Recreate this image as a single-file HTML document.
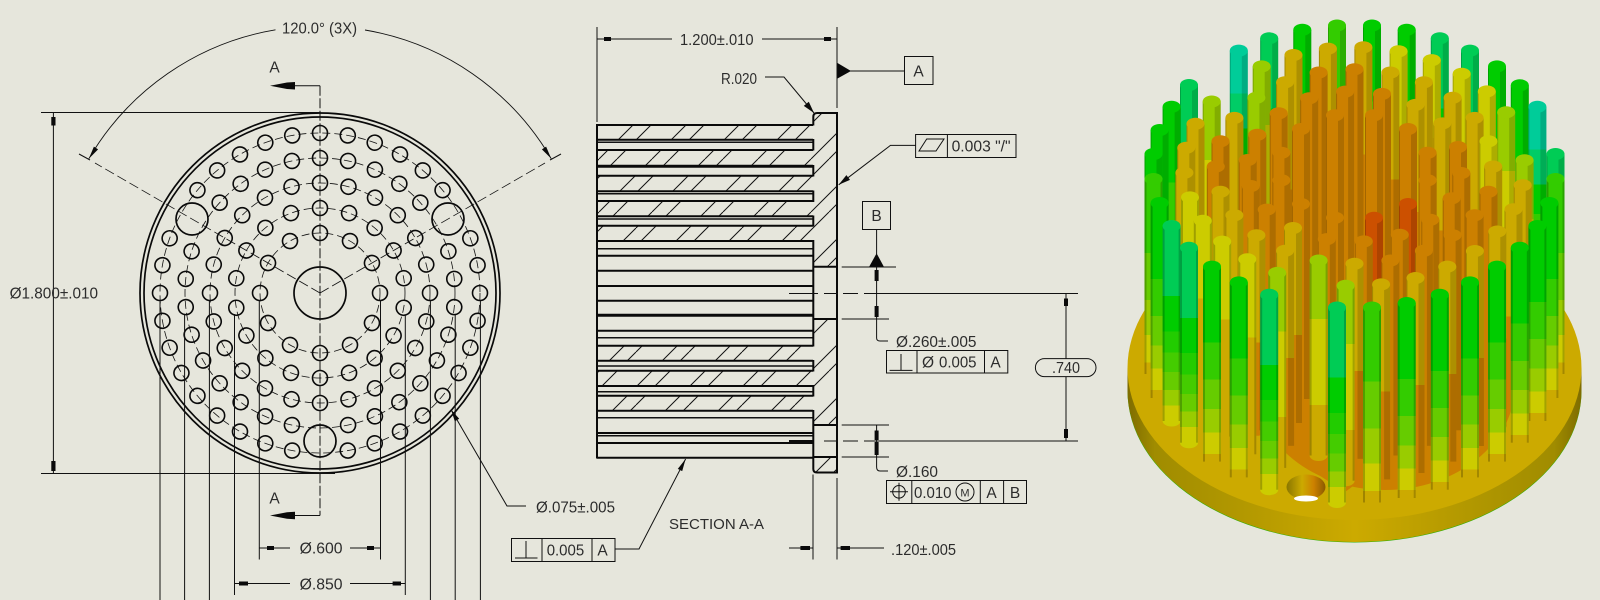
<!DOCTYPE html>
<html><head><meta charset="utf-8"><style>
html,body{margin:0;padding:0;background:#e6e6dc}
svg{display:block}
text{font-family:"Liberation Sans",sans-serif;font-size:15.5px;fill:#2c2c2c;transform:translateY(.5px)}
.t{stroke:#111;stroke-width:1;fill:none}
.m{stroke:#111;stroke-width:1.5;fill:none}
.k{stroke:#0a0a0a;stroke-width:2;fill:none}
.f{fill:#0a0a0a;stroke:none}
</style></head><body>
<svg width="1600" height="600" viewBox="0 0 1600 600" xmlns="http://www.w3.org/2000/svg">
<defs>
<circle id="a" cx="320" cy="133" r="7.5"/><circle id="b" cx="320" cy="158" r="7.5"/><circle id="c" cx="320" cy="183" r="7.5"/><circle id="d" cx="320" cy="208" r="7.5"/><circle id="e" cx="320" cy="233" r="7.5"/>
<pattern id="hh" width="53" height="53" patternUnits="userSpaceOnUse"><path d="M16 0L0 16M34 0L0 34M53 16L16 53M53 34L34 53" stroke="#111" stroke-width="1" fill="none"/></pattern>
<linearGradient id="ga" x1="0" y1="0" x2="0" y2="1"><stop offset=".22" stop-color="#00cc99"/><stop offset=".22" stop-color="#00cc66"/><stop offset=".4" stop-color="#00cc66"/><stop offset=".4" stop-color="#00cc00"/><stop offset=".55" stop-color="#00cc00"/><stop offset=".55" stop-color="#33cc00"/><stop offset=".68" stop-color="#33cc00"/><stop offset=".68" stop-color="#66cc00"/><stop offset=".78" stop-color="#66cc00"/><stop offset=".78" stop-color="#99cc00"/><stop offset=".9" stop-color="#99cc00"/><stop offset=".9" stop-color="#cccc00"/></linearGradient>
<linearGradient id="gb" x1="0" y1="0" x2="0" y2="1"><stop offset=".36" stop-color="#00cc55"/><stop offset=".36" stop-color="#00cc00"/><stop offset=".54" stop-color="#00cc00"/><stop offset=".54" stop-color="#22cc00"/><stop offset=".65" stop-color="#22cc00"/><stop offset=".65" stop-color="#44cc00"/><stop offset=".75" stop-color="#44cc00"/><stop offset=".75" stop-color="#66cc00"/><stop offset=".84" stop-color="#66cc00"/><stop offset=".84" stop-color="#99cc00"/><stop offset=".92" stop-color="#99cc00"/><stop offset=".92" stop-color="#cccc00"/></linearGradient>
<linearGradient id="gc" x1="0" y1="0" x2="0" y2="1"><stop offset=".39" stop-color="#00cc00"/><stop offset=".39" stop-color="#33cc00"/><stop offset=".58" stop-color="#33cc00"/><stop offset=".58" stop-color="#66cc00"/><stop offset=".73" stop-color="#66cc00"/><stop offset=".73" stop-color="#99cc00"/><stop offset=".85" stop-color="#99cc00"/><stop offset=".85" stop-color="#cccc00"/><stop offset=".96" stop-color="#cccc00"/><stop offset=".96" stop-color="#ccaa00"/></linearGradient>
<linearGradient id="gd" x1="0" y1="0" x2="0" y2="1"><stop offset=".38" stop-color="#33cc00"/><stop offset=".38" stop-color="#66cc00"/><stop offset=".62" stop-color="#66cc00"/><stop offset=".62" stop-color="#99cc00"/><stop offset=".8" stop-color="#99cc00"/><stop offset=".8" stop-color="#cccc00"/><stop offset=".94" stop-color="#cccc00"/><stop offset=".94" stop-color="#ccaa00"/></linearGradient>
<linearGradient id="ge" x1="0" y1="0" x2="0" y2="1"><stop offset=".3" stop-color="#99cc00"/><stop offset=".3" stop-color="#cccc00"/><stop offset=".74" stop-color="#cccc00"/><stop offset=".74" stop-color="#ccaa00"/></linearGradient>
<linearGradient id="gf" x1="0" y1="0" x2="0" y2="1"><stop offset=".4" stop-color="#cccc00"/><stop offset=".4" stop-color="#ccaa00"/></linearGradient>
<linearGradient id="gg" x1="0" y1="0" x2="0" y2="1"><stop offset=".55" stop-color="#ccaa00"/><stop offset=".55" stop-color="#cc8000"/></linearGradient>
<linearGradient id="gi" x1="0" y1="0" x2="0" y2="1"><stop offset=".4" stop-color="#cc5000"/><stop offset=".4" stop-color="#cc8000"/></linearGradient>
<linearGradient id="side" x1="0" y1="0" x2="1" y2="0"><stop offset="0" stop-color="#7e6c00"/><stop offset=".06" stop-color="#a08c00"/><stop offset=".28" stop-color="#b59a00"/><stop offset=".5" stop-color="#ccaa00"/><stop offset=".72" stop-color="#b59a00"/><stop offset=".94" stop-color="#a08c00"/><stop offset="1" stop-color="#7e6c00"/></linearGradient>
<linearGradient id="holeg" x1="0" y1="0" x2="1" y2="0"><stop offset="0" stop-color="#8a7600"/><stop offset=".4" stop-color="#ccaa00"/><stop offset=".7" stop-color="#cc8000"/><stop offset="1" stop-color="#8a5a00"/></linearGradient>
<g id="P"><rect x="3" y="0" width="6" height="195" fill="#000" opacity=".15"/><rect x="-9" y="0" width="1" height="195" fill="#000" opacity=".2"/></g>
<g id="Q"><rect x="7" y="0" width="2" height="195" fill="#000" opacity=".2"/><rect x="-9" y="0" width="2" height="195" fill="#000" opacity=".22"/></g>
<g id="pa"><ellipse cy="195" rx="9" ry="5.5" fill="#cccc00"/><rect x="-9" width="18" height="195" fill="url(#ga)"/><use href="#P"/><ellipse rx="9" ry="6" fill="#00cc99"/></g>
<g id="pb"><ellipse cy="195" rx="9" ry="5.5" fill="#cccc00"/><rect x="-9" width="18" height="195" fill="url(#gb)"/><use href="#P"/><ellipse rx="9" ry="6" fill="#00cc55"/></g>
<g id="pc"><ellipse cy="195" rx="9" ry="5.5" fill="#ccaa00"/><rect x="-9" width="18" height="195" fill="url(#gc)"/><use href="#P"/><ellipse rx="9" ry="6" fill="#00cc00"/></g>
<g id="pd"><ellipse cy="195" rx="9" ry="5.5" fill="#ccaa00"/><rect x="-9" width="18" height="195" fill="url(#gd)"/><use href="#P"/><ellipse rx="9" ry="6" fill="#33cc00"/></g>
<g id="pe"><ellipse cy="195" rx="9" ry="5.5" fill="#ccaa00"/><rect x="-9" width="18" height="195" fill="url(#ge)"/><use href="#P"/><ellipse rx="9" ry="6" fill="#99cc00"/></g>
<g id="pf"><ellipse cy="195" rx="9" ry="5.5" fill="#ccaa00"/><rect x="-9" width="18" height="195" fill="url(#gf)"/><use href="#P"/><ellipse rx="9" ry="6" fill="#cccc00"/></g>
<g id="pg"><ellipse cy="195" rx="9" ry="5.5" fill="#cc8000"/><rect x="-9" width="18" height="195" fill="url(#gg)"/><use href="#P"/><ellipse rx="9" ry="6" fill="#ccaa00"/></g>
<g id="ph"><ellipse cy="195" rx="9" ry="5.5" fill="#cc8000"/><rect x="-9" width="18" height="195" fill="#cc8000"/><use href="#P"/><ellipse rx="9" ry="6" fill="#cc8000"/></g>
<g id="pi"><ellipse cy="195" rx="9" ry="5.5" fill="#cc8000"/><rect x="-9" width="18" height="195" fill="url(#gi)"/><use href="#P"/><ellipse rx="9" ry="6" fill="#cc5000"/></g>
<g id="qb"><ellipse cy="195" rx="9" ry="5.5" fill="#cccc00"/><rect x="-9" width="18" height="195" fill="url(#gb)"/><use href="#Q"/><ellipse rx="9" ry="6" fill="#00cc55"/></g>
<g id="qc"><ellipse cy="195" rx="9" ry="5.5" fill="#ccaa00"/><rect x="-9" width="18" height="195" fill="url(#gc)"/><use href="#Q"/><ellipse rx="9" ry="6" fill="#00cc00"/></g>
<g id="qd"><ellipse cy="195" rx="9" ry="5.5" fill="#ccaa00"/><rect x="-9" width="18" height="195" fill="url(#gd)"/><use href="#Q"/><ellipse rx="9" ry="6" fill="#33cc00"/></g>
<g id="qe"><ellipse cy="195" rx="9" ry="5.5" fill="#ccaa00"/><rect x="-9" width="18" height="195" fill="url(#ge)"/><use href="#Q"/><ellipse rx="9" ry="6" fill="#99cc00"/></g>
<g id="qf"><ellipse cy="195" rx="9" ry="5.5" fill="#ccaa00"/><rect x="-9" width="18" height="195" fill="url(#gf)"/><use href="#Q"/><ellipse rx="9" ry="6" fill="#cccc00"/></g>
</defs>
<rect width="1600" height="600" fill="#e6e6dc"/>

<!-- FRONT VIEW -->
<g class="k" style="stroke-width:1.7"><circle cx="320" cy="293" r="180"/><circle cx="320" cy="293" r="176"/><circle cx="320" cy="293" r="26"/><circle cx="320" cy="441" r="16"/><circle cx="192" cy="219" r="16"/><circle cx="448" cy="219" r="16"/></g>
<g fill="none" stroke="#111" stroke-width=".8" stroke-dasharray="8 4"><circle cx="320" cy="293" r="60"/><circle cx="320" cy="293" r="85"/><circle cx="320" cy="293" r="110"/><circle cx="320" cy="293" r="135"/><circle cx="320" cy="293" r="160"/></g>
<g fill="none" stroke="#0a0a0a" stroke-width="1.6">
<use href="#a"/><use href="#a" transform="rotate(10 320 293)"/><use href="#a" transform="rotate(20 320 293)"/><use href="#a" transform="rotate(30 320 293)"/><use href="#a" transform="rotate(40 320 293)"/><use href="#a" transform="rotate(50 320 293)"/><use href="#a" transform="rotate(70 320 293)"/><use href="#a" transform="rotate(80 320 293)"/><use href="#a" transform="rotate(90 320 293)"/><use href="#a" transform="rotate(100 320 293)"/><use href="#a" transform="rotate(110 320 293)"/><use href="#a" transform="rotate(120 320 293)"/><use href="#a" transform="rotate(130 320 293)"/><use href="#a" transform="rotate(140 320 293)"/><use href="#a" transform="rotate(150 320 293)"/><use href="#a" transform="rotate(160 320 293)"/><use href="#a" transform="rotate(170 320 293)"/><use href="#a" transform="rotate(190 320 293)"/><use href="#a" transform="rotate(200 320 293)"/><use href="#a" transform="rotate(210 320 293)"/><use href="#a" transform="rotate(220 320 293)"/><use href="#a" transform="rotate(230 320 293)"/><use href="#a" transform="rotate(240 320 293)"/><use href="#a" transform="rotate(250 320 293)"/><use href="#a" transform="rotate(260 320 293)"/><use href="#a" transform="rotate(270 320 293)"/><use href="#a" transform="rotate(280 320 293)"/><use href="#a" transform="rotate(290 320 293)"/><use href="#a" transform="rotate(310 320 293)"/><use href="#a" transform="rotate(320 320 293)"/><use href="#a" transform="rotate(330 320 293)"/><use href="#a" transform="rotate(340 320 293)"/><use href="#a" transform="rotate(350 320 293)"/>
<use href="#b"/><use href="#b" transform="rotate(12 320 293)"/><use href="#b" transform="rotate(24 320 293)"/><use href="#b" transform="rotate(36 320 293)"/><use href="#b" transform="rotate(48 320 293)"/><use href="#b" transform="rotate(72 320 293)"/><use href="#b" transform="rotate(84 320 293)"/><use href="#b" transform="rotate(96 320 293)"/><use href="#b" transform="rotate(108 320 293)"/><use href="#b" transform="rotate(120 320 293)"/><use href="#b" transform="rotate(132 320 293)"/><use href="#b" transform="rotate(144 320 293)"/><use href="#b" transform="rotate(156 320 293)"/><use href="#b" transform="rotate(168 320 293)"/><use href="#b" transform="rotate(192 320 293)"/><use href="#b" transform="rotate(204 320 293)"/><use href="#b" transform="rotate(216 320 293)"/><use href="#b" transform="rotate(228 320 293)"/><use href="#b" transform="rotate(240 320 293)"/><use href="#b" transform="rotate(252 320 293)"/><use href="#b" transform="rotate(264 320 293)"/><use href="#b" transform="rotate(276 320 293)"/><use href="#b" transform="rotate(288 320 293)"/><use href="#b" transform="rotate(312 320 293)"/><use href="#b" transform="rotate(324 320 293)"/><use href="#b" transform="rotate(336 320 293)"/><use href="#b" transform="rotate(348 320 293)"/>
<use href="#c"/><use href="#c" transform="rotate(15 320 293)"/><use href="#c" transform="rotate(30 320 293)"/><use href="#c" transform="rotate(45 320 293)"/><use href="#c" transform="rotate(60 320 293)"/><use href="#c" transform="rotate(75 320 293)"/><use href="#c" transform="rotate(90 320 293)"/><use href="#c" transform="rotate(105 320 293)"/><use href="#c" transform="rotate(120 320 293)"/><use href="#c" transform="rotate(135 320 293)"/><use href="#c" transform="rotate(150 320 293)"/><use href="#c" transform="rotate(165 320 293)"/><use href="#c" transform="rotate(180 320 293)"/><use href="#c" transform="rotate(195 320 293)"/><use href="#c" transform="rotate(210 320 293)"/><use href="#c" transform="rotate(225 320 293)"/><use href="#c" transform="rotate(240 320 293)"/><use href="#c" transform="rotate(255 320 293)"/><use href="#c" transform="rotate(270 320 293)"/><use href="#c" transform="rotate(285 320 293)"/><use href="#c" transform="rotate(300 320 293)"/><use href="#c" transform="rotate(315 320 293)"/><use href="#c" transform="rotate(330 320 293)"/><use href="#c" transform="rotate(345 320 293)"/>
<use href="#d"/><use href="#d" transform="rotate(20 320 293)"/><use href="#d" transform="rotate(40 320 293)"/><use href="#d" transform="rotate(60 320 293)"/><use href="#d" transform="rotate(80 320 293)"/><use href="#d" transform="rotate(100 320 293)"/><use href="#d" transform="rotate(120 320 293)"/><use href="#d" transform="rotate(140 320 293)"/><use href="#d" transform="rotate(160 320 293)"/><use href="#d" transform="rotate(180 320 293)"/><use href="#d" transform="rotate(200 320 293)"/><use href="#d" transform="rotate(220 320 293)"/><use href="#d" transform="rotate(240 320 293)"/><use href="#d" transform="rotate(260 320 293)"/><use href="#d" transform="rotate(280 320 293)"/><use href="#d" transform="rotate(300 320 293)"/><use href="#d" transform="rotate(320 320 293)"/><use href="#d" transform="rotate(340 320 293)"/>
<use href="#e"/><use href="#e" transform="rotate(30 320 293)"/><use href="#e" transform="rotate(60 320 293)"/><use href="#e" transform="rotate(90 320 293)"/><use href="#e" transform="rotate(120 320 293)"/><use href="#e" transform="rotate(150 320 293)"/><use href="#e" transform="rotate(180 320 293)"/><use href="#e" transform="rotate(210 320 293)"/><use href="#e" transform="rotate(240 320 293)"/><use href="#e" transform="rotate(270 320 293)"/><use href="#e" transform="rotate(300 320 293)"/><use href="#e" transform="rotate(330 320 293)"/>
</g>
<path d="M320 85.7V515.5" stroke="#111" stroke-width="1" stroke-dasharray="10 2.5" fill="none"/>
<path d="M320 293L95 163M320 293L545 163" stroke="#111" stroke-width=".8" stroke-dasharray="10 4" fill="none"/>
<path class="t" d="M79 154L90 160M561 154L550 160M295 85.7H320M295 515.5H320"/>
<path class="t" style="stroke-width:.9" d="M88.8 158.8A267.3 267.3 0 0 1 275.5 29.8M365 30A267.3 267.3 0 0 1 551.3 158.8"/>
<path class="f" d="M88.8 158.8L98.1 149.4L93.9 146.6ZM551.3 158.8L541.9 149.4L546.1 146.6ZM270 85.7L287 82.5L295 82V89.5L287 89ZM270 515.5L287 512.3L295 511.8V519.3L287 518.8Z"/>
<path class="t" d="M41 112.5H320M41 473.5H335M53.4 113V473"/>
<path class="f" d="M51.3 117H55.5V125.5H51.3ZM51.3 461H55.5V471H51.3Z"/>
<path class="t" d="M160 300V600M184.6 315V600M209.4 300V600M234.5 314V595M259.3 300V559.5M380.5 300V559.5M405.3 315V595M430.4 300V600M455.2 315V600M480.4 300V600"/>
<path class="t" d="M259.3 548H290M350 548H380.5M234.5 583.5H290M350 583.5H405.3"/>
<path class="f" d="M267 546H274V550H267ZM367 546H374V550H367ZM239 581.5H248V585.5H239ZM392.6 581.5H401V585.5H392.6Z"/>
<path class="t" d="M451 409.5L507 506H526"/>
<path class="f" d="M451 409.5L459.2 418.8L454.8 421.2Z"/>
<text x="274.5" y="72" text-anchor="middle">A</text>
<text x="274.5" y="503" text-anchor="middle">A</text>
<text x="282" y="33" textLength="75" lengthAdjust="spacingAndGlyphs">120.0° (3X)</text>
<text x="9.6" y="298" textLength="88.5" lengthAdjust="spacingAndGlyphs">Ø1.800±.010</text>
<text x="299.6" y="553" textLength="43" lengthAdjust="spacingAndGlyphs">Ø.600</text>
<text x="299.6" y="589" textLength="43" lengthAdjust="spacingAndGlyphs">Ø.850</text>
<text x="536" y="512" textLength="79" lengthAdjust="spacingAndGlyphs">Ø.075±.005</text>

<!-- SECTION VIEW -->
<path fill="url(#hh)" d="M597 125H813V140H597ZM597 150H813V166H597ZM597 175.7H813V191.3H597ZM597 201H813V216.3H597ZM597 225.7H813V241H597ZM597 345.7H813V360.7H597ZM597 370.7H813V386H597ZM597 395.7H813V410.7H597ZM813 113H837V266.7H813ZM813 319H837V425H813ZM813 457H837V472H813Z"/>
<path class="k" d="M597 125H813M597 139.7H813M597 150H813M597 175.7H813M597 191.3H813M597 201H813M597 216.3H813M597 225.7H813M597 241H813M597 255.7H813M597 270.7H813M597 286H813M597 300.7H813M597 330.7H813M597 345.7H813M597 360.7H813M597 370.7H813M597 386H813M597 395.7H813M597 410.7H813M597 433H813M597 443H813M597 457.7H813"/>
<path class="k" style="stroke-width:3" d="M597 166.3H813M597 315.3H813"/>
<path class="m" d="M597 142.3H813M597 193.7H813M597 219H813M597 248.7H813M597 337.7H813M597 366H813M597 391.7H813M597 417.7H813M597 435.7H813"/>
<path class="k" d="M597 124V458.5"/>
<path class="k" d="M813.3 139V150.5M813.3 165V176.5M813.3 190.5V202M813.3 215.5V226.5M813.3 240V346.5M813.3 360V371.5M813.3 385V396.5M813.3 410V469Q813.3 472.5 817 472.5H837V113H817Q813.3 113 813.3 117V125.5"/>
<path class="k" d="M813 266.7H837M813 319H837M813 425H837M813 457H837"/>
<path class="t" d="M789 293.5H818M824 293.5H838M843 293.5H858M864 293.5H1078"/>
<path class="t" d="M824 441H838M843 441H858M864 441H1078"/>
<path class="k" d="M789 441H813"/>
<path class="t" d="M597 27V122M837 27V108M597 39H672M762 39H837"/>
<path class="f" d="M604 37H611V41H604ZM824 37H831V41H824Z"/>
<text x="680" y="44.5" textLength="73.5" lengthAdjust="spacingAndGlyphs">1.200±.010</text>
<path class="t" d="M765 77H784L814 113"/>
<path class="f" d="M814 113L808.8 101.7L803.8 105.9Z"/>
<text x="721" y="83.5" textLength="36" lengthAdjust="spacingAndGlyphs">R.020</text>
<path class="f" d="M837.5 63V78.5L851 71Z"/>
<path class="t" d="M850 71H904.5"/>
<rect class="t" x="904.5" y="56.5" width="28.5" height="28"/>
<text x="918.6" y="76" text-anchor="middle">A</text>
<path class="t" d="M915.6 145.4H890.4L838.7 184.8"/>
<path class="f" d="M838.7 184.8L850 179.9L846.4 175.1Z"/>
<rect class="t" x="915.6" y="134.5" width="100.4" height="23"/>
<path class="t" d="M947.4 134.5V157.5M919 151L926.7 139H944L936 151Z"/>
<text x="951.6" y="151" textLength="59" lengthAdjust="spacingAndGlyphs">0.003 "/"</text>
<rect class="t" x="862.5" y="201.5" width="28" height="28"/>
<text x="876.6" y="220.5" text-anchor="middle">B</text>
<path class="t" d="M876.6 229.6V254"/>
<path class="f" d="M876.6 253.3L869 267H884Z"/>
<path class="t" d="M841.7 267H896M841.7 319H889M841.7 425H889M841.7 457H889"/>
<path class="t" d="M876.6 267V338Q876.6 341 880 341H888M876.6 425V467Q876.6 471 880 471H888"/>
<path class="f" d="M874.6 270H878.6V281H874.6ZM874.6 306H878.6V317H874.6ZM874.6 430.5H878.6V440H874.6ZM874.6 442H878.6V455H874.6Z"/>
<text x="896" y="346.7" textLength="80.5" lengthAdjust="spacingAndGlyphs">Ø.260±.005</text>
<rect class="t" x="886.5" y="350.5" width="121.3" height="22.5"/>
<path class="t" d="M917 350.5V373M984.5 350.5V373M889.6 370.4H912.5M901 354V370.4"/>
<text x="922" y="367">Ø</text>
<text x="939" y="367" textLength="37.5" lengthAdjust="spacingAndGlyphs">0.005</text>
<text x="995.6" y="367" text-anchor="middle">A</text>
<text x="896" y="476.5" textLength="42" lengthAdjust="spacingAndGlyphs">Ø.160</text>
<rect class="t" x="886.5" y="480.5" width="140" height="23"/>
<path class="t" d="M911.8 480.5V503.5M980.3 480.5V503.5M1003.6 480.5V503.5"/>
<circle class="t" cx="899" cy="491.8" r="6.3"/>
<path class="t" d="M890 491.8H908M899 482.8V500.8"/>
<text x="914" y="497.5" textLength="37.5" lengthAdjust="spacingAndGlyphs">0.010</text>
<circle class="t" cx="965" cy="492" r="9"/>
<text x="965" y="496" text-anchor="middle" style="font-size:11px">M</text>
<text x="991.6" y="497.5" text-anchor="middle">A</text>
<text x="1015" y="497.5" text-anchor="middle">B</text>
<path class="t" d="M1066 293.5V358.6M1066 376.6V441"/>
<path class="f" d="M1064 298.5H1068V306H1064ZM1064 429H1068V438H1064Z"/>
<rect class="t" x="1035.4" y="358.6" width="60.6" height="18" rx="9"/>
<text x="1052" y="372.5" textLength="28" lengthAdjust="spacingAndGlyphs">.740</text>
<path class="t" d="M813 474.5V559.5M837 478V559.5M789 548H813M837 548H884"/>
<path class="f" d="M800.4 546H810V550H800.4ZM840.6 546H850V550H840.6Z"/>
<text x="891" y="554.5" textLength="65" lengthAdjust="spacingAndGlyphs">.120±.005</text>
<text x="669" y="528.5" textLength="95" lengthAdjust="spacingAndGlyphs" style="font-size:14.5px">SECTION A-A</text>
<rect class="t" x="511.5" y="538.5" width="103.5" height="23"/>
<path class="t" d="M542 538.5V561.5M592 538.5V561.5M515 558H537.5M526 541V558"/>
<text x="546.7" y="555" textLength="37.5" lengthAdjust="spacingAndGlyphs">0.005</text>
<text x="602.5" y="555" text-anchor="middle">A</text>
<path class="t" d="M615 549H639L685.6 459"/>
<path class="f" d="M685.6 459L682.2 471.1L677.8 468.9Z"/>

<!-- 3D MODEL -->
<ellipse cx="1354.5" cy="391" rx="227" ry="151.5" fill="#30b000"/>
<path d="M1127.5 368V390A227 152 0 0 0 1581.5 390V368Z" fill="url(#side)"/>
<ellipse cx="1354.5" cy="368" rx="227" ry="152" fill="#ccaa00"/>
<ellipse cx="1385" cy="385" rx="130" ry="105" fill="#cc8000"/>
<path d="M1293 440L1311 470L1345 492L1375 470Z" fill="#cc8000"/>
<ellipse cx="1306" cy="487" rx="19.5" ry="12.5" fill="url(#holeg)"/>
<ellipse cx="1306" cy="498.5" rx="12" ry="3" fill="#fff"/>
<use href="#pd" x="1337" y="25.5"/><use href="#pc" x="1372" y="25.5"/>
<use href="#pc" x="1302.3" y="29.8"/><use href="#pc" x="1406.7" y="29.8"/>
<use href="#pb" x="1269.2" y="38.3"/><use href="#pb" x="1439.8" y="38.3"/>
<use href="#pg" x="1363.4" y="47.3"/><use href="#pg" x="1327.9" y="48.6"/>
<use href="#pa" x="1238.8" y="50.6"/><use href="#pb" x="1470" y="50.6"/>
<use href="#pf" x="1398.6" y="51.2"/><use href="#pg" x="1293.5" y="55"/>
<use href="#pf" x="1431.8" y="60.1"/><use href="#pe" x="1261.7" y="66.4"/><use href="#pc" x="1497" y="66.4"/>
<use href="#ph" x="1354.5" y="69.2"/><use href="#pg" x="1390.4" y="72.5"/><use href="#ph" x="1318.6" y="72.5"/>
<use href="#pf" x="1461.7" y="73.7"/><use href="#pg" x="1423.9" y="82.2"/><use href="#pg" x="1285.1" y="82.2"/>
<use href="#pb" x="1189" y="85"/><use href="#pc" x="1519.8" y="85.3"/><use href="#pf" x="1486.8" y="91.4"/>
<use href="#ph" x="1345.1" y="91.6"/><use href="#ph" x="1382" y="93.9"/><use href="#pg" x="1452.6" y="97.7"/>
<use href="#pe" x="1256.4" y="97.7"/><use href="#ph" x="1309.2" y="98.3"/><use href="#pe" x="1211.7" y="101.5"/>
<use href="#pg" x="1415.5" y="104.9"/><use href="#pc" x="1171.6" y="106.7"/><use href="#pa" x="1537.4" y="106.7"/>
<use href="#pe" x="1506.2" y="112.3"/><use href="#ph" x="1278.7" y="113.3"/><use href="#ph" x="1374" y="115.3"/><use href="#ph" x="1335" y="115.3"/>
<use href="#pg" x="1474.6" y="117.9"/><use href="#pg" x="1234.4" y="117.9"/><use href="#pg" x="1442.3" y="123.4"/><use href="#pg" x="1195.5" y="123.7"/>
<use href="#ph" x="1408" y="129"/><use href="#ph" x="1301" y="129"/><use href="#pc" x="1159.6" y="130"/><use href="#ph" x="1257.3" y="134.7"/>
<use href="#pf" x="1488.5" y="141.3"/><use href="#ph" x="1220.5" y="141.3"/><use href="#ph" x="1458" y="147"/><use href="#pg" x="1186.3" y="147.8"/>
<use href="#ph" x="1427.6" y="152.8"/><use href="#ph" x="1281.4" y="152.8"/><use href="#pc" x="1153.5" y="154"/><use href="#pb" x="1555.5" y="154"/>
<use href="#ph" x="1247.7" y="160"/><use href="#pe" x="1524.6" y="160.3"/><use href="#pg" x="1493.2" y="166.5"/><use href="#ph" x="1215.8" y="166.5"/>
<use href="#pg" x="1184.4" y="172.7"/><use href="#ph" x="1461.3" y="173"/><use href="#qd" x="1153.5" y="179"/><use href="#qd" x="1555.5" y="179"/>
<use href="#ph" x="1427.6" y="180.2"/><use href="#ph" x="1281.4" y="180.2"/><use href="#pg" x="1522.7" y="185.2"/><use href="#ph" x="1250.8" y="186"/>
<use href="#ph" x="1488.5" y="191.7"/><use href="#pg" x="1220.5" y="191.7"/><use href="#qf" x="1190" y="197.4"/><use href="#ph" x="1451.7" y="198.3"/>
<use href="#qc" x="1159.6" y="203"/><use href="#qc" x="1549.4" y="203"/><use href="#pi" x="1408" y="204"/><use href="#ph" x="1301" y="204"/>
<use href="#pg" x="1513.5" y="209.3"/><use href="#ph" x="1266.7" y="209.6"/><use href="#ph" x="1474.6" y="215.2"/><use href="#pg" x="1234.4" y="215.2"/>
<use href="#pi" x="1374" y="217.7"/><use href="#ph" x="1335" y="217.7"/><use href="#ph" x="1430.3" y="219.7"/><use href="#qf" x="1202.8" y="220.7"/>
<use href="#qb" x="1171.6" y="226"/><use href="#qc" x="1537.4" y="226"/><use href="#pg" x="1293" y="228"/><use href="#pg" x="1497.3" y="231.5"/>
<use href="#ph" x="1399.8" y="234.7"/><use href="#ph" x="1452.6" y="235.3"/><use href="#pg" x="1256.4" y="235.3"/><use href="#ph" x="1326.8" y="239.1"/>
<use href="#ph" x="1363.8" y="241.4"/><use href="#qf" x="1222.2" y="241.6"/><use href="#qb" x="1189" y="247.7"/><use href="#qc" x="1519.8" y="247.7"/>
<use href="#ph" x="1423.9" y="250.8"/><use href="#pg" x="1285.1" y="250.8"/><use href="#pg" x="1474.9" y="251"/><use href="#qf" x="1247.3" y="259.3"/>
<use href="#ph" x="1390.4" y="260.5"/><use href="#qe" x="1318.6" y="260.5"/><use href="#pg" x="1354.5" y="263.8"/><use href="#qc" x="1212" y="266.6"/>
<use href="#qc" x="1497" y="266.6"/><use href="#pg" x="1447.3" y="266.6"/><use href="#qe" x="1277.2" y="272.9"/><use href="#pg" x="1415.5" y="278"/>
<use href="#qc" x="1238.8" y="282.4"/><use href="#qc" x="1470" y="282.4"/><use href="#pg" x="1381.1" y="284.4"/><use href="#qe" x="1345.6" y="285.7"/>
<use href="#qb" x="1269.2" y="294.7"/><use href="#qc" x="1439.8" y="294.7"/><use href="#qc" x="1406.7" y="303"/><use href="#qb" x="1337" y="307.5"/><use href="#qd" x="1372" y="307.5"/>
</svg>
</body></html>
